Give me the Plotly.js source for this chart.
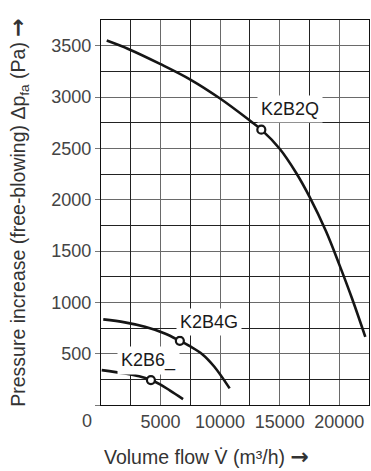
<!DOCTYPE html>
<html>
<head>
<meta charset="utf-8">
<script src="https://cdn.plot.ly/plotly-3.0.1.min.js"></script>
<style>html,body{margin:0;padding:0;background:#fff;}#chart{width:371px;height:471px;}</style>
</head>
<body>
<div id="chart"></div>
<script>
// Fan curves: volume flow (m³/h) vs pressure increase (Pa)
const k2b2qFlow = [480, 2290, 5000, 7500, 10000, 12500, 13460, 15000, 16390, 17500, 18900, 20000, 21100, 22190];
const k2b2qPressure = [3550, 3468, 3320, 3170, 2985, 2770, 2682, 2496, 2260, 2030, 1690, 1370, 1030, 664];

const k2b4gFlow = [190, 2000, 3690, 5360, 6620, 7500, 8500, 9500, 10800];
const k2b4gPressure = [834, 805, 762, 697, 625, 570, 495, 375, 162];

const k2b6Flow = [60, 2000, 3200, 4190, 5000, 5800, 6890];
const k2b6Pressure = [340, 308, 280, 243, 198, 140, 58];

// Operating points (open circles)
const pointFlow = [13460, 6620, 4190];
const pointPressure = [2682, 625, 243];

// Curve labels
const curveNames = ["K2B2Q", "K2B4G", "K2B6_"];
const labelFlow = [15900, 9050, 3980];
const labelPressure = [2884, 812, 438];

// Tick labels
const xTickVals = [5000, 10000, 15000, 20000];
const xTickText = ["5000", "10000", "15000", "20000"];
const yTickVals = [0, 500, 1000, 1500, 2000, 2500, 3000, 3500];
const yTickText = [" ", "500", "1000", "1500", "2000", "2500", "3000", "3500"];
const xRange = [0, 22500];
const yRange = [0, 3750];

const lineStyle = {color: "#151515", width: 2.6, shape: "spline", smoothing: 1};
const traces = [
  {x: [], y: [], xaxis: "x2", yaxis: "y2", mode: "lines", hoverinfo: "skip", showlegend: false},
  {x: k2b2qFlow, y: k2b2qPressure, mode: "lines", line: lineStyle, name: "K2B2Q"},
  {x: k2b4gFlow, y: k2b4gPressure, mode: "lines", line: lineStyle, name: "K2B4G"},
  {x: k2b6Flow, y: k2b6Pressure, mode: "lines", line: lineStyle, name: "K2B6"},
  {x: pointFlow, y: pointPressure, mode: "markers", name: "points",
   marker: {symbol: "circle", size: 8, color: "#ffffff", line: {color: "#151515", width: 2.2}}}
];

const font = "Liberation Sans, Arial, Helvetica, sans-serif";
const arrow = "<span style=\"font-family:'DejaVu Sans';font-weight:bold;font-size:22px\">\u2192</span>";
const annotations = curveNames.map((t, i) => ({
  x: labelFlow[i], y: labelPressure[i], xref: "x", yref: "y", text: t, showarrow: false,
  xanchor: "center", yanchor: "middle", bgcolor: "#ffffff", borderpad: 3,
  font: {family: font, size: 18, color: "#1a1a1a"}
}));
annotations.push({x: 0, y: 0, xref: "x", yref: "y", text: "0", showarrow: false,
  xanchor: "center", yanchor: "middle", xshift: -14, yshift: -16,
  font: {family: font, size: 18, color: "#444"}});
annotations.push({x: 0.392, y: -0.135, xref: "paper", yref: "paper", text: "Volume flow V\u0307 (m\u00b3/h) " + arrow,
  showarrow: false, xanchor: "center", yanchor: "middle",
  font: {family: font, size: 19.5, color: "#333"}});

const layout = {
  width: 371, height: 471,
  margin: {l: 101, r: 2, t: 20, b: 66},
  paper_bgcolor: "#ffffff", plot_bgcolor: "#ffffff",
  showlegend: false,
  font: {family: font, size: 18, color: "#444"},
  xaxis: {
    range: xRange, tickmode: "array", tickvals: xTickVals, ticktext: xTickText,
    ticks: "", showgrid: true, gridcolor: "#6a6a6a", gridwidth: 1,
    showline: true, linecolor: "#111", linewidth: 1.2, mirror: true, zeroline: false,
    tickfont: {family: font, size: 18, color: "#444"}
  },
  yaxis: {
    range: yRange, tickmode: "array", tickvals: yTickVals, ticktext: yTickText,
    ticks: "outside", ticklen: 5, tickcolor: "#777", tickwidth: 1,
    showgrid: true, gridcolor: "#6a6a6a", gridwidth: 1,
    showline: true, linecolor: "#111", linewidth: 1.2, mirror: true, zeroline: false,
    tickfont: {family: font, size: 18, color: "#444"},
    title: {text: "Pressure increase (free-blowing) \u0394p<sub>fa</sub> (Pa) " + arrow, standoff: 20,
            font: {family: font, size: 19.5, color: "#333"}}
  },
  xaxis2: {
    overlaying: "x", range: xRange, tickmode: "linear", tick0: 2500, dtick: 5000,
    showticklabels: false, ticks: "", showgrid: true, gridcolor: "#222", gridwidth: 1,
    showline: false, zeroline: false
  },
  yaxis2: {
    overlaying: "y", range: yRange, tickmode: "linear", tick0: 250, dtick: 500,
    showticklabels: false, ticks: "", showgrid: true, gridcolor: "#222", gridwidth: 1,
    showline: false, zeroline: false
  },
  annotations: annotations
};

Plotly.newPlot("chart", traces, layout, {staticPlot: true, displayModeBar: false});
</script>
</body>
</html>
